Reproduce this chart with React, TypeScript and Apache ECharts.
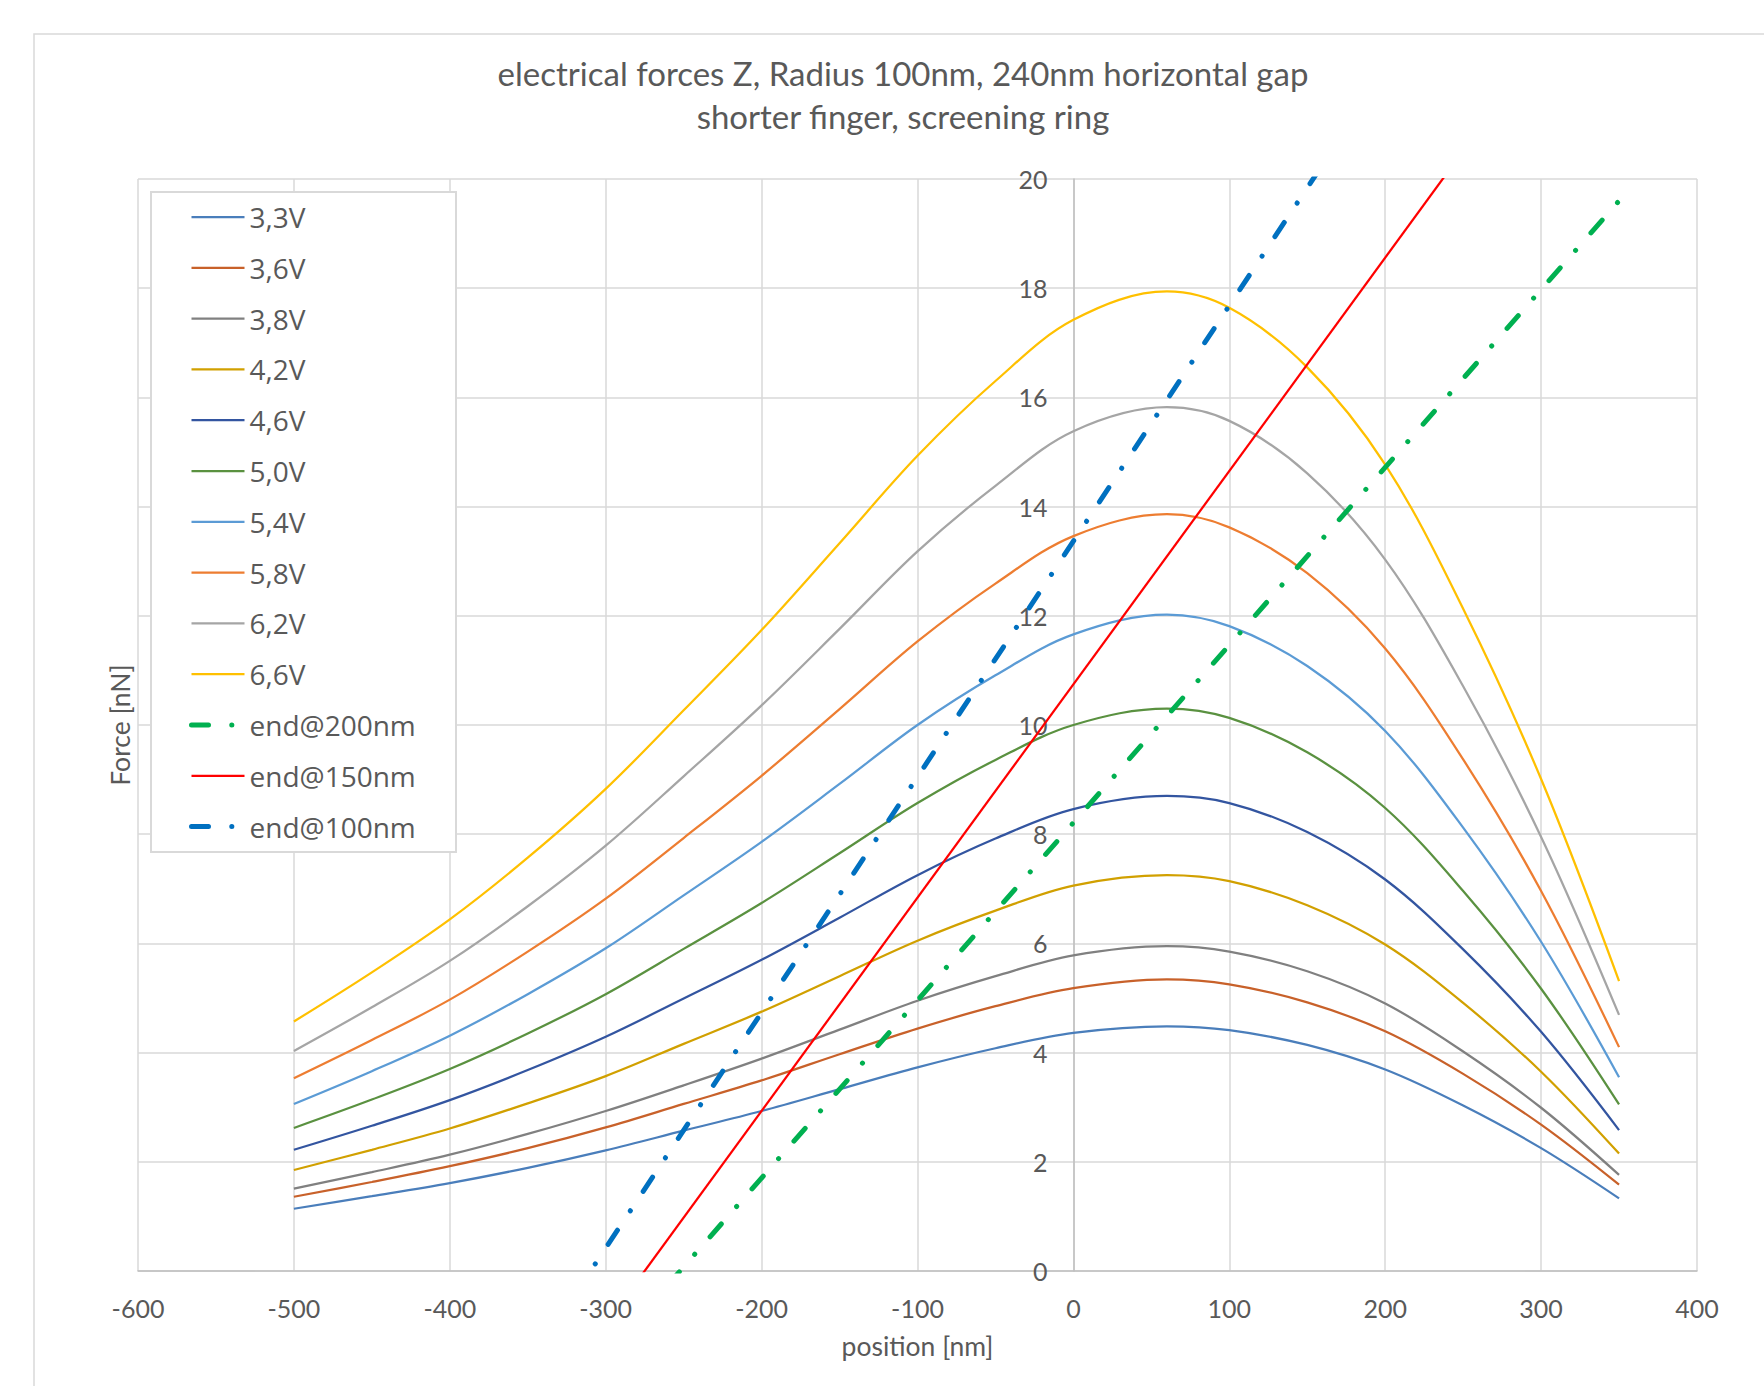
import React, { useEffect, useRef } from "react";
import * as echarts from "echarts";

// positions along the finger [nm]
const positions = [-500, -450, -400, -350, -300, -250, -200, -150, -100, -50, 0, 60, 100, 150, 200, 250, 300, 350];

// Force [nN] per voltage
const f33 = [1.14, 1.37, 1.61, 1.89, 2.21, 2.57, 2.93, 3.33, 3.73, 4.08, 4.36, 4.48, 4.41, 4.14, 3.69, 3.03, 2.25, 1.33];
const f36 = [1.36, 1.63, 1.92, 2.25, 2.63, 3.06, 3.49, 3.97, 4.44, 4.85, 5.18, 5.34, 5.25, 4.92, 4.39, 3.61, 2.68, 1.58];
const f38 = [1.51, 1.81, 2.13, 2.51, 2.93, 3.4, 3.89, 4.42, 4.95, 5.4, 5.78, 5.95, 5.85, 5.49, 4.9, 4.02, 2.99, 1.76];
const f42 = [1.85, 2.22, 2.61, 3.07, 3.57, 4.16, 4.75, 5.4, 6.05, 6.6, 7.06, 7.25, 7.14, 6.7, 5.98, 4.91, 3.65, 2.15];
const f46 = [2.22, 2.66, 3.13, 3.68, 4.29, 4.99, 5.7, 6.47, 7.25, 7.92, 8.46, 8.7, 8.57, 8.04, 7.17, 5.89, 4.38, 2.58];
const f50 = [2.62, 3.14, 3.7, 4.35, 5.07, 5.9, 6.74, 7.65, 8.57, 9.36, 10.0, 10.3, 10.13, 9.5, 8.48, 6.96, 5.17, 3.05];
const f54 = [3.06, 3.66, 4.31, 5.07, 5.91, 6.88, 7.86, 8.92, 10.0, 10.91, 11.66, 12.02, 11.81, 11.08, 9.89, 8.12, 6.03, 3.55];
const f58 = [3.53, 4.23, 4.97, 5.85, 6.82, 7.93, 9.07, 10.29, 11.53, 12.59, 13.46, 13.86, 13.62, 12.78, 11.4, 9.37, 6.96, 4.1];
const f62 = [4.03, 4.83, 5.68, 6.68, 7.79, 9.06, 10.36, 11.76, 13.18, 14.38, 15.38, 15.82, 15.57, 14.61, 13.03, 10.71, 7.95, 4.69];
const f66 = [4.57, 5.47, 6.44, 7.57, 8.83, 10.27, 11.74, 13.33, 14.93, 16.3, 17.42, 17.94, 17.64, 16.55, 14.77, 12.13, 9.01, 5.31];

// straight reference lines (end points; clipped by the axis range)
const endX = [-500, 350];
const end200 = [-8.06, 19.6];
const end150 = [-8.79, 24.42];
const end100 = [-8.21, 28.47];

const voltNames = ["3,3V", "3,6V", "3,8V", "4,2V", "4,6V", "5,0V", "5,4V", "5,8V", "6,2V", "6,6V"];
const voltValues = [f33, f36, f38, f42, f46, f50, f54, f58, f62, f66];
const voltColors = ["#4A7EBB", "#C8612A", "#808080", "#D1A000", "#3355A0", "#5A9140", "#5B9BD5", "#ED7D31", "#A5A5A5", "#FFC000"];

const lineNames = ["end@200nm", "end@150nm", "end@100nm"];
const lineValues = [end200, end150, end100];
const lineColors = ["#00B050", "#FF0000", "#0070C0"];
const lineDashOffsets = [4.6, 0, 3.4];

const TEXT = "#595959";
const GRID = "#D9D9D9";
const dashDot = [17, 23.25, 0.1, 23.25];

const GRID_LEFT = 138;
const GRID_WIDTH = 1559;
const X_MIN = -600;
const X_MAX = 400;

export default function App() {
  const ref = useRef<HTMLDivElement>(null);
  useEffect(() => {
    if (!ref.current) return;
    const chart = echarts.init(ref.current, null, { renderer: "svg" });

    const series: any[] = voltNames.map((name, i) => ({
      name,
      type: "line",
      data: positions.map((x, j) => [x, voltValues[i][j]]),
      smooth: 0.35,
      symbol: "none",
      clip: true,
      lineStyle: { color: voltColors[i], width: 2.25 },
      itemStyle: { color: voltColors[i] },
    }));
    lineNames.forEach((name, i) => {
      const dashed = i !== 1;
      series.push({
        name,
        type: "line",
        data: endX.map((x, j) => [x, lineValues[i][j]]),
        symbol: "none",
        clip: true,
        lineStyle: dashed
          ? { color: lineColors[i], width: 5, type: dashDot, cap: "round", dashOffset: lineDashOffsets[i] }
          : { color: lineColors[i], width: 2.25 },
        itemStyle: { color: lineColors[i] },
      });
    });

    const legendData = [
      ...voltNames.map((n) => ({ name: n, lineStyle: { width: 2.25 } })),
      { name: lineNames[0], lineStyle: { width: 5, dashOffset: 0 } },
      { name: lineNames[1], lineStyle: { width: 2.25 } },
      { name: lineNames[2], lineStyle: { width: 5, dashOffset: 0 } },
    ];

    // y axis sits at position 0 of the x axis (labels included)
    const yAxisOffset = -((0 - X_MIN) / (X_MAX - X_MIN)) * GRID_WIDTH;

    chart.setOption({
      animation: false,
      backgroundColor: "#ffffff",
      textStyle: { fontFamily: "Lato" },
      title: {
        text: "electrical forces Z, Radius 100nm, 240nm horizontal gap\nshorter finger, screening ring",
        left: 903,
        top: 51.5,
        padding: 0,
        textAlign: "center",
        textStyle: { fontFamily: "Lato", fontSize: 33, fontWeight: "normal", color: TEXT, lineHeight: 43 },
      },
      graphic: {
        elements: [
          {
            type: "rect",
            z: 0,
            shape: { x: 34, y: 34, width: 1780, height: 1400 },
            style: { fill: "none", stroke: GRID, lineWidth: 1.5 },
            silent: true,
          },
          {
            type: "rect",
            z: 3,
            shape: { x: 151, y: 192, width: 305, height: 660 },
            style: { fill: "#ffffff", stroke: GRID, lineWidth: 2 },
            silent: true,
          },
        ],
      },
      legend: {
        orient: "vertical",
        left: 189,
        top: 202,
        padding: 0,
        itemGap: 20.8,
        itemWidth: 53,
        itemHeight: 30,
        selectedMode: false,
        itemStyle: { opacity: 0 },
        textStyle: { fontFamily: "Open Sans", fontSize: 28, color: TEXT, lineHeight: 30 },
        data: legendData,
      },
      grid: {
        left: GRID_LEFT,
        top: 179,
        width: GRID_WIDTH,
        height: 1092,
        containLabel: false,
        outerBoundsMode: "none",
      },
      xAxis: {
        type: "value",
        min: X_MIN,
        max: X_MAX,
        interval: 100,
        axisLine: { show: true, onZero: false, lineStyle: { color: "#BFBFBF", width: 1.5 } },
        axisTick: { show: false },
        axisLabel: { color: TEXT, fontSize: 25, fontFamily: "Lato", margin: 24 },
        splitLine: { show: true, lineStyle: { color: GRID, width: 1.5 } },
        name: "position [nm]",
        nameLocation: "middle",
        nameGap: 61,
        nameTextStyle: { color: TEXT, fontSize: 26.5, fontFamily: "Lato" },
      },
      yAxis: {
        type: "value",
        min: 0,
        max: 20,
        interval: 2,
        offset: yAxisOffset,
        axisLine: { show: true, onZero: false, lineStyle: { color: "#BFBFBF", width: 1.5 } },
        axisTick: { show: false },
        axisLabel: { color: TEXT, fontSize: 25, fontFamily: "Lato", margin: 26 },
        splitLine: { show: true, lineStyle: { color: GRID, width: 1.5 } },
        name: "Force [nN]",
        nameLocation: "middle",
        nameGap: 940,
        nameTextStyle: { color: TEXT, fontSize: 26.5, fontFamily: "Lato" },
      },
      series,
    });
    return () => chart.dispose();
  }, []);
  return (
    <div
      ref={ref}
      style={{ position: "absolute", left: 0, top: 0, width: 1764, height: 1386, background: "#ffffff" }}
    />
  );
}
